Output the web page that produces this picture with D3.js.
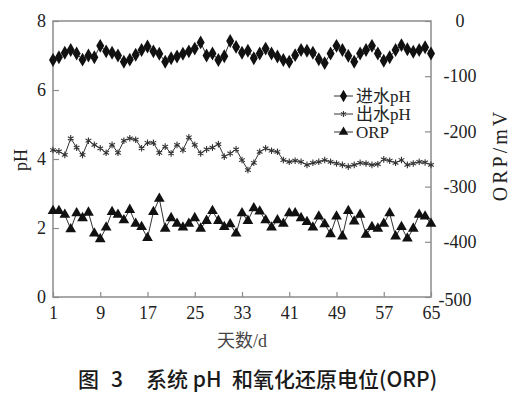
<!DOCTYPE html>
<html><head><meta charset="utf-8">
<script src="https://cdn.jsdelivr.net/npm/d3@7"></script>
<style>body{margin:0;background:#fff} svg{display:block}</style>
</head><body><svg id="c" width="527" height="398"></svg>
<script>
const days = d3.range(1, 66);
const xTicks = [1, 9, 17, 25, 33, 41, 49, 57, 65];
const phTicks = [0, 2, 4, 6, 8];
const orpTicks = [0, -100, -200, -300, -400, -500];
const seriesNames = ["进水pH", "出水pH", "ORP"];
const influentPH = [6.87,6.95,7.08,7.16,7.06,6.88,7.0,6.95,7.28,7.12,
  7.08,7.0,6.82,6.88,7.02,7.16,7.26,7.12,7.05,6.82,
  6.92,6.97,7.05,7.12,7.2,7.38,7.0,7.06,6.87,6.98,
  7.42,7.25,7.08,7.14,6.92,7.06,7.2,7.06,6.97,6.87,
  6.82,7.01,7.16,7.14,7.08,6.89,6.78,7.06,7.28,7.16,
  6.99,6.82,7.06,7.16,7.28,7.06,6.85,6.95,7.16,7.3,
  7.18,7.11,7.16,7.24,7.06];
const effluentPH = [4.26,4.22,4.12,4.6,4.33,4.12,4.53,4.41,4.31,4.18,
  4.41,4.18,4.53,4.6,4.56,4.31,4.47,4.47,4.18,4.36,
  4.16,4.41,4.26,4.63,4.41,4.16,4.28,4.33,4.43,4.07,
  4.16,4.28,3.97,3.68,3.89,4.21,
  4.31,4.24,4.21,3.97,3.92,3.95,3.92,3.83,3.89,3.92,
  3.97,3.92,3.87,3.83,3.78,3.83,3.89,3.87,3.83,3.85,
  3.99,3.95,3.89,3.97,3.83,3.87,3.92,3.9,3.83];
const orpValues = [-344,-344,-351,-377,-348,-357,-347,-385,-395,-374,
  -346,-351,-361,-342,-367,-373,-393,-346,-322,-376,
  -357,-367,-374,-367,-357,-376,-362,-344,-362,-373,
  -368,-385,-348,-362,-339,-345,-361,-374,-361,-367,
  -348,-348,-357,-364,-374,-354,-368,-386,-354,-390,
  -344,-363,-351,-387,-373,-376,-367,-348,-390,-373,
  -394,-376,-351,-354,-367];

const svg = d3.select("#c");
const L = 53, R = 431, T = 21, B = 297;
const x = d3.scaleLinear().domain([1, 65]).range([L, R]);
const yL = d3.scaleLinear().domain([0, 8]).range([B, T]);
const yR = d3.scaleLinear().domain([-500, 0]).range([B, T]);
const serif = "'Liberation Serif','Times New Roman','Noto Sans CJK SC',serif";
const axisCol = "#8c8c8c", textCol = "#222";

// axes
const gx = svg.append("g").attr("transform", `translate(0,${B})`)
  .call(d3.axisBottom(x).tickValues(xTicks).tickSize(-5).tickSizeOuter(0).tickPadding(9).tickFormat(d => String(d)));
const gl = svg.append("g").attr("transform", `translate(${L},0)`)
  .call(d3.axisLeft(yL).tickValues(phTicks).tickSize(-6).tickSizeOuter(0).tickPadding(7).tickFormat(d => String(d)));
const gr = svg.append("g").attr("transform", `translate(${R},0)`)
  .call(d3.axisRight(yR).tickValues(orpTicks).tickSize(-6).tickSizeOuter(0).tickPadding(7).tickFormat(d => String(d)));
[gx, gl, gr].forEach(g => {
  g.select(".domain").remove();
  g.selectAll(".tick line").attr("stroke", axisCol).attr("stroke-width", 1.2);
  g.selectAll(".tick text").attr("font-family", serif).attr("font-size", 18).attr("fill", textCol);
});
gr.selectAll(".tick text").attr("text-anchor", "middle").attr("x", d => d === -500 ? 24 : 29)
  .attr("dy", d => d === -500 ? "0.45em" : "0.32em");
// frame
svg.append("rect").attr("x", L).attr("y", T).attr("width", R - L).attr("height", B - T)
  .attr("fill", "none").attr("stroke", axisCol).attr("stroke-width", 1.5);

// series
const defs = [
  { name: seriesNames[0], vals: influentPH, y: yL, sym: d3.symbolDiamond, size: 56, fill: "#111", stroke: "none" },
  { name: seriesNames[1], vals: effluentPH, y: yL, sym: d3.symbolAsterisk, size: 30, fill: "none", stroke: "#333" },
  { name: seriesNames[2], vals: orpValues, y: yR, sym: d3.symbolTriangle, size: 50, fill: "#111", stroke: "none" }
];
defs.forEach(s => {
  const line = d3.line().x((d, i) => x(days[i])).y(d => s.y(d));
  svg.append("path").datum(s.vals).attr("d", line).attr("fill", "none")
    .attr("stroke", "#333").attr("stroke-width", 1);
  svg.append("g").selectAll("path").data(s.vals).join("path")
    .attr("transform", (d, i) => `translate(${x(days[i])},${s.y(d)})`)
    .attr("d", d3.symbol().type(s.sym).size(s.size)())
    .attr("fill", s.fill).attr("stroke", s.stroke).attr("stroke-width", 1.1);
});

// legend
const lg = svg.append("g");
defs.forEach((s, i) => {
  const yy = 96 + i * 18;
  lg.append("line").attr("x1", 334).attr("x2", 353).attr("y1", yy).attr("y2", yy)
    .attr("stroke", "#333").attr("stroke-width", 1);
  lg.append("path").attr("transform", `translate(343.5,${yy})`)
    .attr("d", d3.symbol().type(s.sym).size(s.size * 0.8)())
    .attr("fill", s.fill).attr("stroke", s.stroke).attr("stroke-width", 1.1);
  lg.append("text").attr("x", 356).attr("y", yy).attr("dy", "0.35em")
    .attr("font-family", serif).attr("font-size", 17).attr("fill", textCol).text(s.name);
});

// axis titles
svg.append("text").attr("transform", "translate(21,160) rotate(-90)").attr("text-anchor", "middle")
  .attr("dy", "0.35em").attr("font-family", serif).attr("font-size", 18).attr("fill", textCol).text("pH");
svg.append("text").attr("transform", "translate(500,155) rotate(-90)").attr("text-anchor", "middle")
  .attr("dy", "0.35em").attr("font-family", serif).attr("font-size", 20).attr("letter-spacing", 3)
  .attr("fill", textCol).text("ORP/mV");
svg.append("text").attr("x", 242).attr("y", 341).attr("text-anchor", "middle").attr("dy", "0.35em")
  .attr("font-family", serif).attr("font-size", 18).attr("fill", "#444").text("天数/d");

// caption
const cap = svg.append("text").attr("y", 380).attr("dy", "0.35em")
  .attr("font-family", "'Noto Sans CJK SC','Noto Sans',sans-serif").attr("font-size", 21)
  .attr("font-weight", 500).attr("fill", "#1a1a1a");
cap.append("tspan").attr("x", 78).text("图");
cap.append("tspan").attr("x", 111).text("3");
cap.append("tspan").attr("x", 146).text("系统 pH");
cap.append("tspan").attr("x", 232).text("和氧化还原电位(ORP)");
</script></body></html>
